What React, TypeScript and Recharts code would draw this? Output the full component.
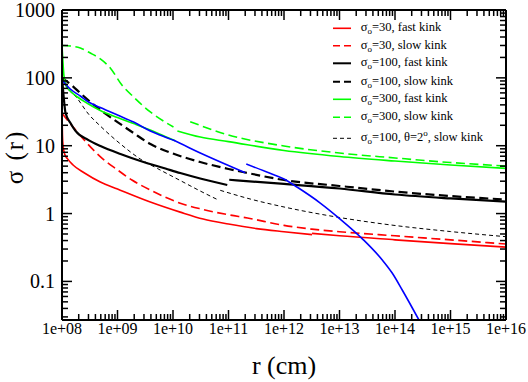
import React from 'react';
import { LineChart, Line, XAxis, YAxis, Legend, Label } from 'recharts';

const FONT = 'Liberation Serif, Tinos, Times New Roman, DejaVu Serif, serif';

// ---- axis ticks ----
const X_MAJOR = [1e8, 1e9, 1e10, 1e11, 1e12, 1e13, 1e14, 1e15, 1e16];
const X_LABELS = ['1e+08', '1e+09', '1e+10', '1e+11', '1e+12', '1e+13', '1e+14', '1e+15', '1e+16'];
const Y_MAJOR = [0.1, 1, 10, 100, 1000];
const Y_LABELS = ['0.1', '1', '10', '100', '1000'];
const MINOR_STEPS = [2, 3, 4, 5, 6, 7, 8, 9];
const X_DOMAIN: [number, number] = [1e8, 1e16];
const Y_DOMAIN: [number, number] = [0.027, 1000];

// ---- series: [r (cm), sigma] ----
type Pt = [number, number];
const redFastA: Pt[] = [[1e8, 30], [1.019e8, 14.4], [1.047e8, 9.9], [1.12e8, 7.5], [1.26e8, 6.4], [1.58e8, 5.2], [2.5e8, 4.0], [4.9e8, 2.92], [1e9, 2.3], [3.9e9, 1.48], [1.35e10, 1.05], [3.5e10, 0.83], [1e11, 0.7], [3.2e11, 0.6], [1e12, 0.54], [3.2e12, 0.49]];
const redFastB: Pt[] = [[3.2e12, 0.51], [1e13, 0.47], [1e14, 0.41], [1e15, 0.36], [1e16, 0.32]];
const redSlow: Pt[] = [[1e8, 30], [1.58e8, 18.9], [2.51e8, 12.1], [5.0e8, 6.8], [1e9, 4.4], [1.82e9, 3.12], [3.9e9, 2.22], [1.35e10, 1.42], [3.16e10, 1.17], [1e11, 0.96], [2.2e11, 0.86], [1e12, 0.67], [3.16e12, 0.59], [1e13, 0.54], [1e14, 0.47], [1e15, 0.41], [1e16, 0.356]];
const blackFastA: Pt[] = [[1e8, 100], [1.064e8, 56], [1.156e8, 30.5], [1.42e8, 21.6], [1.75e8, 16.5], [3.0e8, 12.1], [4.93e8, 9.9], [1.13e9, 7.55], [2.59e9, 5.95], [7.3e9, 4.61], [1.35e10, 3.96], [3.09e10, 3.29], [9.5e10, 2.64]];
const blackFastB: Pt[] = [[1.03e11, 3.15], [1e12, 2.73], [1e13, 2.34], [1e14, 1.91], [1e15, 1.67], [1e16, 1.5]];
const blackSlow: Pt[] = [[1e8, 100], [1.55e8, 75.9], [2.15e8, 59.2], [4.93e8, 33.6], [1e9, 22.3], [1.94e9, 15.4], [3.92e9, 10.6], [1e10, 7.67], [3.09e10, 5.75], [1e11, 4.54], [2e11, 4.03], [1e12, 3.12], [1e13, 2.55], [1e14, 2.11], [1e15, 1.81], [1e16, 1.61]];
const greenFastA: Pt[] = [[1e8, 300], [1.035e8, 183], [1.086e8, 106], [1.2e8, 76], [1.41e8, 64], [1.9e8, 52.2], [3.0e8, 41.2], [4.9e8, 33], [1e9, 26], [1.95e9, 21.2], [3.9e9, 17], [7.2e9, 13.7], [1.1e10, 11.85]];
const greenFastB: Pt[] = [[1.2e10, 16.5], [3.1e10, 13.4], [1e11, 11.5], [1e12, 8.5], [1e13, 6.93], [1e14, 5.95], [1e15, 5.2], [1e16, 4.64]];
const greenSlowA: Pt[] = [[1e8, 300], [1.41e8, 295], [2.14e8, 275], [3.24e8, 232], [4.9e8, 190], [7.4e8, 140], [1.2e9, 78.5], [1.95e9, 52.2], [3.9e9, 31.4], [7.2e9, 22.3], [1.02e10, 18.9]];
const greenSlowB: Pt[] = [[2.04e10, 22.6], [1e11, 14.4], [1e12, 9.9], [1e13, 7.8], [1e14, 6.6], [1e15, 5.65], [1e16, 5.02]];
const thinSlowA: Pt[] = [[1e8, 100], [1.15e8, 78.5], [1.86e8, 50.5], [3.0e8, 29.3], [4.9e8, 19.5], [1.2e9, 10.2], [2.57e9, 6.37], [5.25e9, 4.61], [1.35e10, 3.07], [3.09e10, 2.15], [6.6e10, 1.58]];
const thinSlowB: Pt[] = [[7.1e10, 2.2], [2.45e11, 1.64], [1e12, 1.25], [1e13, 0.875], [1e14, 0.667], [1e15, 0.543], [1e16, 0.456]];
const blueA: Pt[] = [[1e8, 93], [1.41e8, 68.5], [2.14e8, 54], [3.0e8, 44], [4.9e8, 36.6], [1e9, 28.3], [1.95e9, 22.3], [3.9e9, 16.5], [1e10, 12.1], [3.1e10, 7.8], [1e11, 5.1], [2e11, 4.0]];
const blueB: Pt[] = [[2.09e11, 5.37], [5.6e11, 3.92], [1e12, 3.23], [1.74e12, 2.44], [4.5e12, 1.43], [1e13, 0.845], [2.7e13, 0.41], [5.9e13, 0.207], [8.9e13, 0.133], [1.35e14, 0.0747], [2.7e14, 0.027]];

const RED = '#ff0000';
const BLACK = '#000000';
const GREEN = '#00ff00';
const BLUE = '#0000ff';
const DASH = '9 4.5';
const THIN_DASH = '4 3';

const SERIES = [
  { id: 'redFastA', pts: redFastA, color: RED, w: 1.6, dash: undefined },
  { id: 'redFastB', pts: redFastB, color: RED, w: 1.6, dash: undefined },
  { id: 'redSlow', pts: redSlow, color: RED, w: 1.6, dash: DASH },
  { id: 'thinSlowA', pts: thinSlowA, color: BLACK, w: 1, dash: THIN_DASH },
  { id: 'thinSlowB', pts: thinSlowB, color: BLACK, w: 1, dash: THIN_DASH },
  { id: 'blackFastA', pts: blackFastA, color: BLACK, w: 2.2, dash: undefined },
  { id: 'blackFastB', pts: blackFastB, color: BLACK, w: 2.2, dash: undefined },
  { id: 'blackSlow', pts: blackSlow, color: BLACK, w: 2.2, dash: DASH },
  { id: 'greenFastA', pts: greenFastA, color: GREEN, w: 1.6, dash: undefined },
  { id: 'greenFastB', pts: greenFastB, color: GREEN, w: 1.6, dash: undefined },
  { id: 'greenSlowA', pts: greenSlowA, color: GREEN, w: 1.6, dash: DASH },
  { id: 'greenSlowB', pts: greenSlowB, color: GREEN, w: 1.6, dash: DASH },
  { id: 'blueA', pts: blueA, color: BLUE, w: 1.6, dash: undefined },
  { id: 'blueB', pts: blueB, color: BLUE, w: 1.6, dash: undefined },
];

const LEGEND = [
  { sigma: '30', rest: ', fast kink', color: RED, w: 1.6, dash: undefined as string | undefined },
  { sigma: '30', rest: ', slow kink', color: RED, w: 1.6, dash: '7 4' },
  { sigma: '100', rest: ', fast kink', color: BLACK, w: 2, dash: undefined },
  { sigma: '100', rest: ', slow kink', color: BLACK, w: 2, dash: '7 4' },
  { sigma: '300', rest: ', fast kink', color: GREEN, w: 1.6, dash: undefined },
  { sigma: '300', rest: ', slow kink', color: GREEN, w: 1.6, dash: '7 4' },
  { sigma: '100', rest: ', θ=2', color: BLACK, w: 1, dash: '4 3' },
];
const LEGEND_ROW_Y = [28.3, 45.7, 63.3, 81.7, 99.3, 117.3, 138.3];

const toRows = (pts: Pt[]) => pts.map(([r, s]) => ({ r, s }));

const sortNum = (a: number, b: number) => a - b;
const xTicks = [...X_MAJOR, ...X_MAJOR.slice(0, -1).flatMap((m) => MINOR_STEPS.map((k) => k * m))].sort(sortNum);
const yTicks = [...Y_MAJOR, ...[0.01, ...Y_MAJOR.slice(0, -1)].flatMap((m) => MINOR_STEPS.map((k) => k * m))]
  .filter((v) => v >= Y_DOMAIN[0] && v <= Y_DOMAIN[1])
  .sort(sortNum);

const majorIndex = (list: number[], v: number) => list.findIndex((m) => Math.abs(v / m - 1) < 1e-6);

const TICK_W = 1.5;
const MAJOR_LEN = 10;
const MINOR_LEN = 6;
const txt = { fontFamily: FONT };

function BottomTick(props: any) {
  const { x, y, payload } = props;
  const i = majorIndex(X_MAJOR, payload.value);
  const len = i >= 0 ? MAJOR_LEN : MINOR_LEN;
  return (
    <g>
      <line x1={x} x2={x} y1={y} y2={y - len} stroke="#000" strokeWidth={TICK_W} />
      {i >= 0 && (
        <text x={x} y={y + 14} textAnchor="middle" style={txt} fontSize={16} fill="#000">
          {X_LABELS[i]}
        </text>
      )}
    </g>
  );
}

function TopTick(props: any) {
  const { x, y, payload } = props;
  const i = majorIndex(X_MAJOR, payload.value);
  const len = i >= 0 ? MAJOR_LEN : MINOR_LEN;
  return <line x1={x} x2={x} y1={y} y2={y + len} stroke="#000" strokeWidth={TICK_W} />;
}

function LeftTick(props: any) {
  const { x, y, payload } = props;
  const i = majorIndex(Y_MAJOR, payload.value);
  const len = i >= 0 ? MAJOR_LEN : MINOR_LEN;
  return (
    <g>
      <line x1={x} x2={x + len} y1={y} y2={y} stroke="#000" strokeWidth={TICK_W} />
      {i >= 0 && (
        <text x={x - 7} y={y + 7} textAnchor="end" style={txt} fontSize={20} fill="#000">
          {Y_LABELS[i]}
        </text>
      )}
    </g>
  );
}

function RightTick(props: any) {
  const { x, y, payload } = props;
  const i = majorIndex(Y_MAJOR, payload.value);
  const len = i >= 0 ? MAJOR_LEN : MINOR_LEN;
  return <line x1={x} x2={x - len} y1={y} y2={y} stroke="#000" strokeWidth={TICK_W} />;
}

function LegendBox() {
  return (
    <svg width={198} height={150} style={{ display: 'block' }}>
      {LEGEND.map((it, k) => {
        const yy = LEGEND_ROW_Y[k];
        const last = k === LEGEND.length - 1;
        return (
          <g key={k}>
            <line x1={3} x2={21} y1={yy} y2={yy} stroke={it.color} strokeWidth={it.w} strokeDasharray={it.dash} />
            <text x={30.7} y={yy + 3} style={txt} fontSize={12.5} fill="#000">
              σ
              <tspan dy={3} fontSize={9}>o</tspan>
              <tspan dy={-3}>{'=' + it.sigma + it.rest}</tspan>
              {last && <tspan dy={-5} fontSize={9}>o</tspan>}
              {last && <tspan dy={5}>, slow kink</tspan>}
            </text>
          </g>
        );
      })}
    </svg>
  );
}

const axisLine = { stroke: '#000', strokeWidth: 2 };

export default function App() {
  return (
    <div style={{ position: 'absolute', left: 0, top: 0, width: 528, height: 382, background: '#fff' }}>
      <LineChart width={528} height={382} margin={{ top: 0, right: 0, bottom: 0, left: 0 }}>
        <XAxis
          xAxisId="x"
          type="number"
          dataKey="r"
          scale="log"
          domain={X_DOMAIN}
          allowDataOverflow
          ticks={xTicks}
          interval={0}
          tick={BottomTick}
          tickLine={false}
          tickSize={0}
          tickMargin={0}
          axisLine={axisLine}
          height={62}
        >
          <Label
            content={(p: any) => {
              const vb = p.viewBox || { x: 62, y: 320, width: 444 };
              return (
                <text x={vb.x + vb.width / 2} y={vb.y + 54} textAnchor="middle" style={txt} fontSize={26} fill="#000">
                  r (cm)
                </text>
              );
            }}
          />
        </XAxis>
        <XAxis
          xAxisId="t"
          orientation="top"
          type="number"
          dataKey="r"
          scale="log"
          domain={X_DOMAIN}
          allowDataOverflow
          ticks={xTicks}
          interval={0}
          tick={TopTick}
          tickLine={false}
          tickSize={0}
          tickMargin={0}
          axisLine={axisLine}
          height={10}
        />
        <YAxis
          yAxisId="y"
          type="number"
          scale="log"
          domain={Y_DOMAIN}
          allowDataOverflow
          ticks={yTicks}
          interval={0}
          tick={LeftTick}
          tickLine={false}
          tickSize={0}
          tickMargin={0}
          axisLine={axisLine}
          width={62}
        >
          <Label
            content={(p: any) => {
              const vb = p.viewBox || { x: 0, y: 10 };
              const cx = vb.x + 23;
              const cy = vb.y + 147;
              return (
                <text x={cx} y={cy} transform={`rotate(-90, ${cx}, ${cy})`} textAnchor="middle" style={{ ...txt, letterSpacing: 2 }} fontSize={25} fill="#000">
                  σ (r)
                </text>
              );
            }}
          />
        </YAxis>
        <YAxis
          yAxisId="yr"
          orientation="right"
          type="number"
          scale="log"
          domain={Y_DOMAIN}
          allowDataOverflow
          ticks={yTicks}
          interval={0}
          tick={RightTick}
          tickLine={false}
          tickSize={0}
          tickMargin={0}
          axisLine={axisLine}
          width={22}
        />
        {SERIES.map((s) => (
          <Line
            key={s.id}
            xAxisId="x"
            yAxisId="y"
            data={toRows(s.pts)}
            dataKey="s"
            type="monotone"
            stroke={s.color}
            strokeWidth={s.w}
            strokeDasharray={s.dash}
            dot={false}
            activeDot={false}
            legendType="none"
            isAnimationActive={false}
          />
        ))}
        <Legend
          layout="vertical"
          align="center"
          verticalAlign="middle"
          content={() => <LegendBox />}
          wrapperStyle={{ left: 330, top: 0, width: 198, height: 150 }}
        />
      </LineChart>
    </div>
  );
}
